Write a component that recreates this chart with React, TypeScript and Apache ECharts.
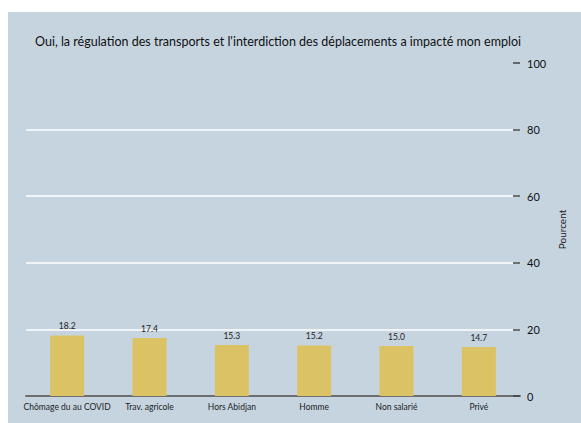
import React, { useEffect, useRef } from "react";
import * as echarts from "echarts";

const categories = ["Chômage du au COVID", "Trav. agricole", "Hors Abidjan", "Homme", "Non salarié", "Privé"];
const values = [18.2, 17.4, 15.3, 15.2, 15.0, 14.7];
const yTicks = [0, 20, 40, 60, 80, 100];
const title = "Oui, la régulation des transports et l'interdiction des déplacements a impacté mon emploi";

const FONT = "Lato, 'DejaVu Sans', sans-serif";

export default function App() {
  const ref = useRef<HTMLDivElement>(null);
  useEffect(() => {
    document.body.style.margin = "0";
    document.body.style.overflow = "hidden";
    const chart = echarts.init(ref.current!, null, { renderer: "svg" });
    chart.setOption({
      animation: false,
      backgroundColor: "#c6d4e0",
      title: {
        text: title,
        left: 22,
        top: 18,
        textStyle: { fontFamily: FONT, fontSize: 12.5, fontWeight: "normal", color: "#111" },
      },
      grid: { left: 18, right: 61, top: 51, bottom: 27 },
      xAxis: {
        type: "category",
        data: categories,
        axisLine: { show: true, lineStyle: { color: "#6e6e6e", width: 2 } },
        axisTick: { show: false },
        axisLabel: { fontFamily: FONT, fontSize: 8.5, color: "#222", margin: 6, interval: 0 },
      },
      yAxis: {
        type: "value",
        position: "right",
        min: yTicks[0],
        max: yTicks[yTicks.length - 1],
        interval: 20,
        name: "Pourcent",
        nameLocation: "middle",
        nameGap: 32,
        nameRotate: 90,
        nameTextStyle: { fontFamily: FONT, fontSize: 10, color: "#222" },
        axisLine: { show: false },
        axisTick: { show: true, inside: true, length: 7, lineStyle: { color: "#444", width: 1.5 } },
        axisLabel: { fontFamily: FONT, fontSize: 11, color: "#111", margin: 7 },
        splitLine: {
          show: true,
          lineStyle: { color: ["#ffffff", "#ffffff", "#ffffff", "#ffffff", "#ffffff", "rgba(0,0,0,0)"], width: 1.5 },
        },
      },
      series: [
        {
          type: "bar",
          data: values,
          barWidth: 34,
          itemStyle: { color: "#dbc264" },
          label: {
            show: true,
            position: "top",
            distance: 5,
            formatter: (p: any) => Number(p.value).toFixed(1),
            fontFamily: FONT,
            fontSize: 8.5,
            color: "#222",
          },
        },
      ],
    });
    return () => chart.dispose();
  }, []);
  return <div ref={ref} style={{ width: 573, height: 411, marginLeft: 8, marginTop: 12 }} />;
}
